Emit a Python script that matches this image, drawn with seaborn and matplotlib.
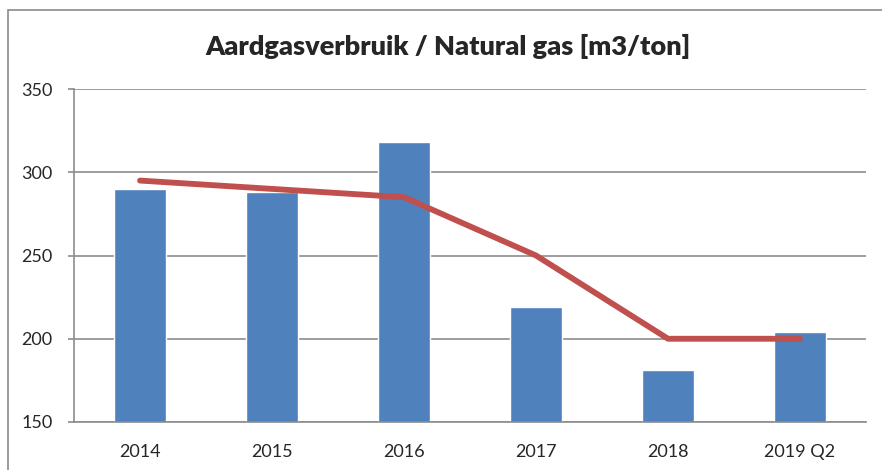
import matplotlib.pyplot as plt
import seaborn as sns
from matplotlib.patches import Rectangle

# Data
years = ['2014', '2015', '2016', '2017', '2018', '2019 Q2']
gas_actual = [290, 288, 318, 219, 181, 204]
gas_target = [295, 290, 285, 250, 200, 200]

sns.set_style('white')
plt.rcParams['font.family'] = ['Lato', 'DejaVu Sans']

fig = plt.figure(figsize=(8.82, 4.70), dpi=100)
ax = fig.add_axes([74 / 882, 1 - 422 / 470, (866 - 74) / 882, (422 - 89) / 470])

# outer chart frame (only left/top visible in the crop)
fig.patches.append(Rectangle((8 / 882, -0.1), 1.2, 1 - 10 / 470 + 0.1,
                             transform=fig.transFigure, fill=False,
                             edgecolor='#8a8a8a', linewidth=1.2))

sns.barplot(x=years, y=gas_actual, color='#4F81BD', width=0.4,
            saturation=1, ax=ax, zorder=2)
sns.pointplot(x=years, y=gas_target, color='#C0504D', markers='',
              linewidth=4.2, ax=ax, zorder=3)
for ln in ax.lines:
    ln.set_solid_capstyle('round')
    ln.set_solid_joinstyle('round')

ax.set_ylim(150, 350)
ax.set_xlim(-0.5, 5.5)
ax.set_yticks([150, 200, 250, 300, 350])
ax.yaxis.grid(True, color='#8c8c8c', linewidth=1.2, zorder=0)
ax.set_axisbelow(True)
ax.set_xlabel('')
ax.set_ylabel('')

for side in ['top', 'right']:
    ax.spines[side].set_visible(False)
for side in ['left', 'bottom']:
    ax.spines[side].set_color('#8c8c8c')
    ax.spines[side].set_linewidth(1.2)

ax.tick_params(axis='y', left=True, length=4.5, width=1.2, color='#8c8c8c',
               pad=11, labelsize=13)
ax.tick_params(axis='x', bottom=False, pad=12, labelsize=13)

fig.text(448 / 882, 1 - 46 / 470, 'Aardgasverbruik / Natural gas [m3/ton]',
         ha='center', va='center', fontsize=19.5, fontweight='heavy')

fig.savefig('out.png', dpi=100)
